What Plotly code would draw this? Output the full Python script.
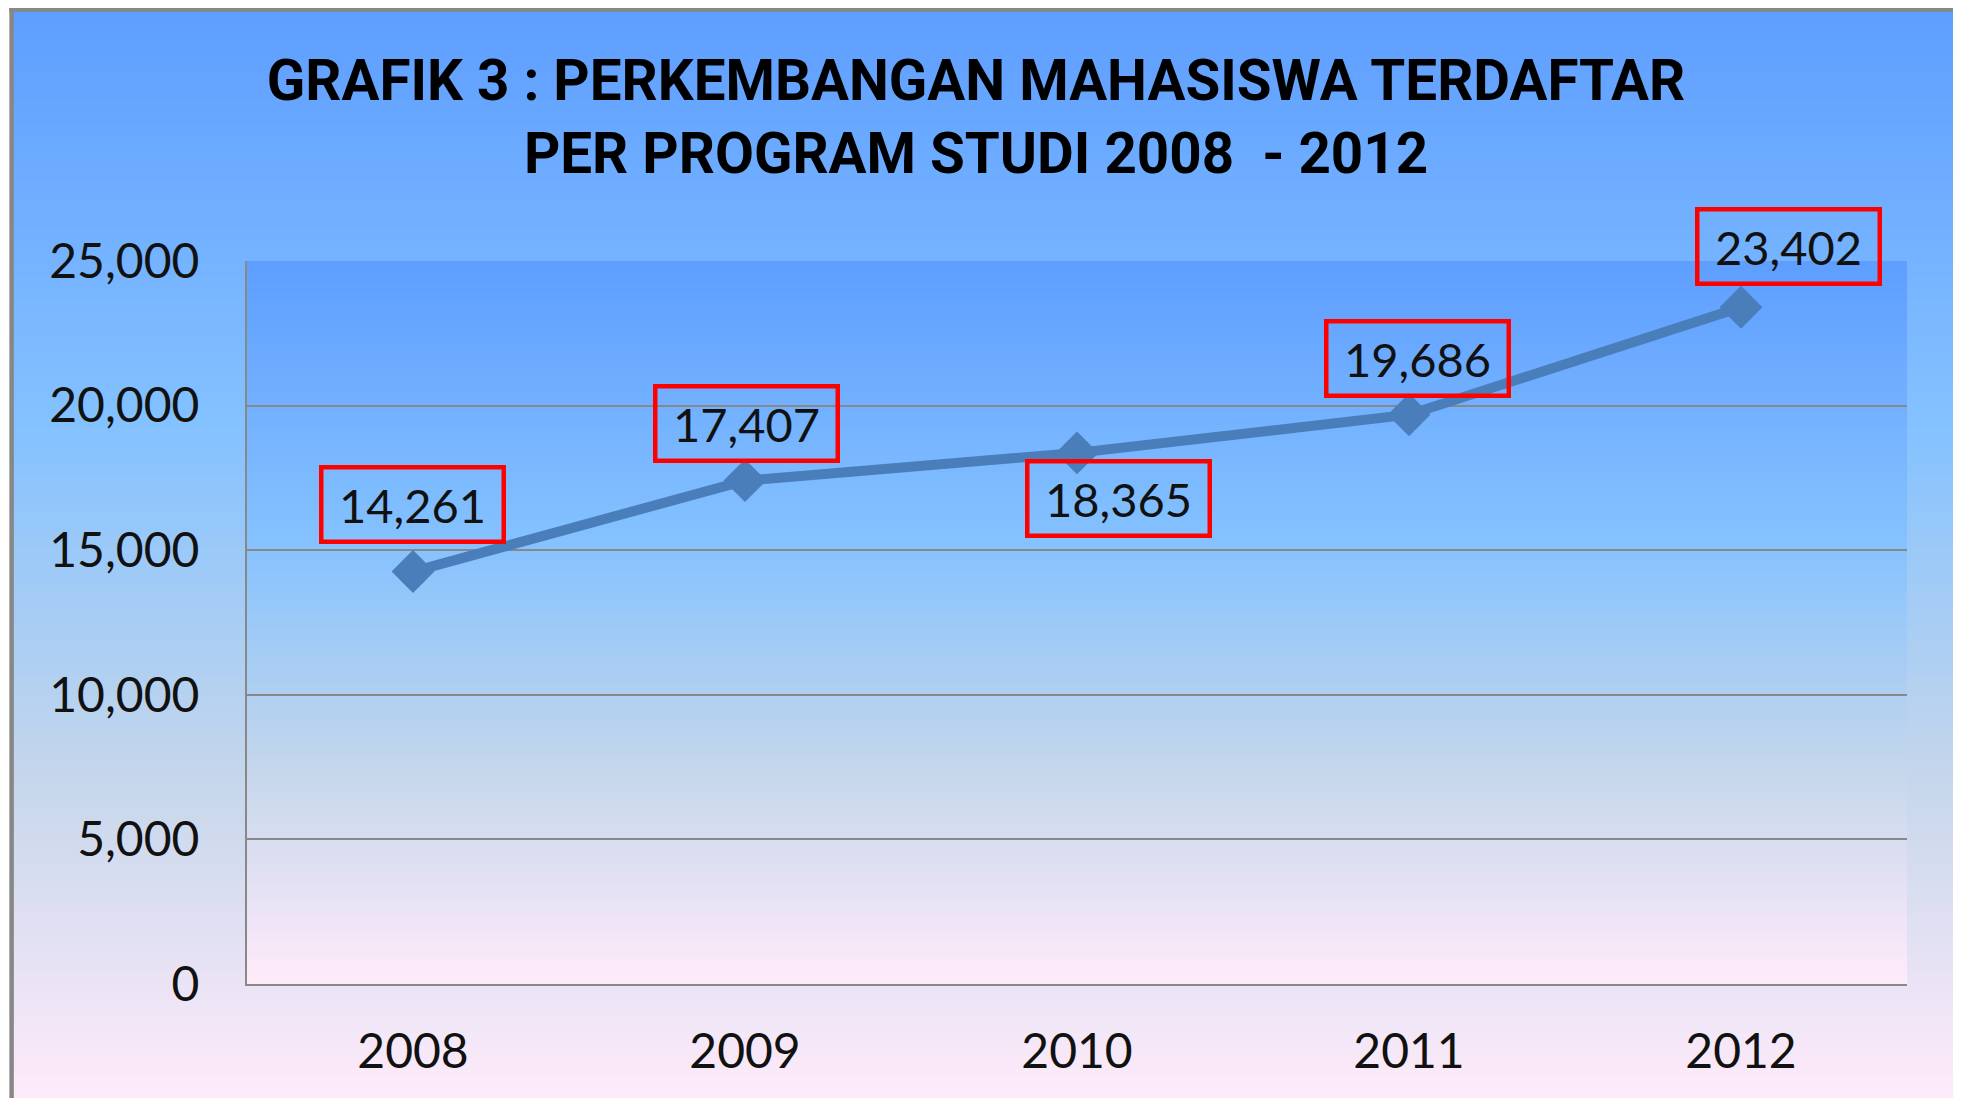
import plotly.graph_objects as go

# ---- data ----
years = ["2008", "2009", "2010", "2011", "2012"]
students = [14261, 17407, 18365, 19686, 23402]
y_ticks = [0, 5000, 10000, 15000, 20000, 25000]
y_tick_text = ["0", "5,000", "10,000", "15,000", "20,000", "25,000"]
title_lines = ["GRAFIK 3 : PERKEMBANGAN MAHASISWA TERDAFTAR",
               "PER PROGRAM STUDI 2008  - 2012"]

# ---- style ----
OFF = 8                      # page body margin offset
PAGE_W, PAGE_H = 1961, 1098
W, H = PAGE_W - OFF, PAGE_H - OFF
# plot area in page pixels
PL, PR, PT, PB = 247, 1907, 261, 984
ML, MT = PL - OFF, PT - OFF
MR, MB = PAGE_W - PR, PAGE_H - PB
PW, PH = PR - PL, PB - PT
LINE_COLOR = "#4A7EBB"
GRID = "#888888"
TICK_FONT = dict(family="Lato, 'Open Sans', sans-serif", size=48, color="#111111")
LABEL_FONT = dict(family="Lato, 'Open Sans', sans-serif", size=47, color="#111111")
# label offsets (xshift, yshift) in px
label_shift = [(-1, 67), (1, 57), (41, -46), (8, 56), (47, 61)]

# Office "Daybreak" gradient stops
stops = [(0.0, (0x5E, 0x9E, 0xFF)), (0.39, (0x85, 0xC2, 0xFF)),
         (0.70, (0xC4, 0xD6, 0xEB)), (1.0, (0xFF, 0xEB, 0xFA))]


def grad_color(t):
    for (p0, c0), (p1, c1) in zip(stops[:-1], stops[1:]):
        if t <= p1:
            f = (t - p0) / (p1 - p0) if p1 > p0 else 0
            return "rgb(%d,%d,%d)" % tuple(round(a + (b - a) * f) for a, b in zip(c0, c1))
    return "rgb(%d,%d,%d)" % stops[-1][1]


def px2paper_x(px):          # page px -> paper
    return (px - PL) / PW


def px2paper_y(py):
    return (PB - py) / PH


shapes = []


def gradient_bands(x0px, x1px, y0px, y1px, n):
    h = (y1px - y0px) / n
    for i in range(n):
        top = y0px + i * h
        bot = top + h + 1.0
        shapes.append(dict(type="rect", xref="paper", yref="paper", layer="below",
                           x0=px2paper_x(x0px), x1=px2paper_x(x1px),
                           y0=px2paper_y(min(bot, y1px)), y1=px2paper_y(top),
                           line=dict(width=0), fillcolor=grad_color((i + 0.5) / n)))


# outer chart area gradient
gradient_bands(12, PAGE_W + 5, 9, PAGE_H + 2, 180)
# plot area gradient
gradient_bands(PL, PR, PT, PB, 130)

# chart area border (left & top)
shapes.append(dict(type="line", xref="paper", yref="paper", layer="above",
                   x0=px2paper_x(11.6), x1=px2paper_x(11.6),
                   y0=px2paper_y(PAGE_H + 5), y1=px2paper_y(7.3),
                   line=dict(color="#878787", width=4.5)))
shapes.append(dict(type="line", xref="paper", yref="paper", layer="above",
                   x0=px2paper_x(9.3), x1=px2paper_x(PAGE_W + 5),
                   y0=px2paper_y(9.5), y1=px2paper_y(9.5),
                   line=dict(color="#878787", width=4.5)))

fig = go.Figure()
fig.add_trace(go.Scatter(
    x=years, y=students, mode="lines+markers",
    line=dict(color=LINE_COLOR, width=10),
    marker=dict(symbol="diamond", size=33, color=LINE_COLOR),
    hoverinfo="skip", showlegend=False))

annotations = []
for i, (v, (dx, dy)) in enumerate(zip(students, label_shift)):
    annotations.append(dict(
        x=i, y=v, xref="x", yref="y", text=f"{v:,}", showarrow=False,
        xshift=dx, yshift=dy, font=LABEL_FONT, width=164,
        borderpad=7, borderwidth=4.5,
        bordercolor="#FF0000", align="center",
        xanchor="center", yanchor="middle"))

fig.update_layout(
    width=W, height=H,
    margin=dict(l=ML, r=MR, t=MT, b=MB, pad=0),
    paper_bgcolor="white", plot_bgcolor="rgba(0,0,0,0)",
    shapes=shapes, annotations=annotations,
    title=dict(text="<br>".join(title_lines), x=(976 - OFF) / W, xref="container",
               xanchor="center", y=1 - 92 / H, yref="container", yanchor="top",
               font=dict(family="Roboto, 'Liberation Sans', Arial, sans-serif",
                         size=56.5, color="#000000", weight="bold")),
    xaxis=dict(type="category", range=[-0.5, 4.5], showgrid=False,
               showline=True, linecolor=GRID, linewidth=2, ticks="",
               tickfont=TICK_FONT, ticklabelstandoff=24, fixedrange=True),
    yaxis=dict(range=[0, 25000], tickvals=y_ticks, ticktext=y_tick_text,
               showgrid=True, gridcolor=GRID, gridwidth=2, zeroline=False,
               showline=True, linecolor=GRID, linewidth=2, ticks="",
               tickfont=TICK_FONT, ticklabelstandoff=36, fixedrange=True),
)

fig.write_html("out.html")
